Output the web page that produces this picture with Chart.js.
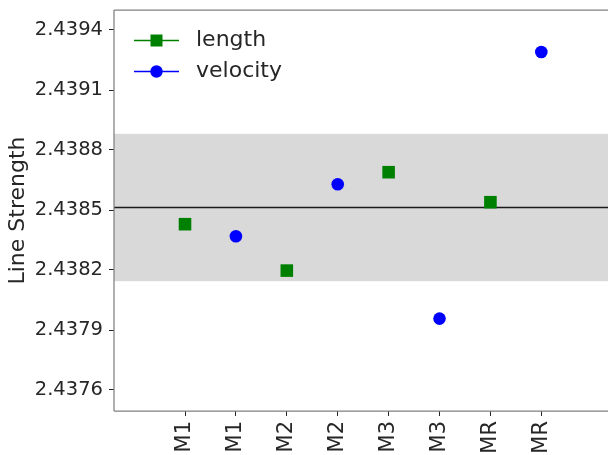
<!DOCTYPE html>
<html>
<head>
<meta charset="utf-8">
<script src="https://cdn.jsdelivr.net/npm/chart.js@4.4.1/dist/chart.umd.min.js"></script>
<style>
  html, body { margin: 0; padding: 0; background: #ffffff; }
  #wrap { position: relative; width: 608px; height: 455px; }
  canvas { display: block; }
</style>
</head>
<body>
<div id="wrap"><canvas id="chart" width="608" height="455"></canvas></div>
<script>
// Measurements per model, two methods each
const categories = ['M1', 'M2', 'M3', 'MR'];
const lengthValues = [2.438429, 2.438197, 2.438689, 2.438539];
const velocityValues = [2.438369, 2.438629, 2.437957, 2.439290];
const xTickLabels = ['M1', 'M1', 'M2', 'M2', 'M3', 'M3', 'MR', 'MR'];
const yTickValues = [2.4376, 2.4379, 2.4382, 2.4385, 2.4388, 2.4391, 2.4394];
const seriesNames = ['length', 'velocity'];

// mean and (population) standard deviation over all measurements
const allValues = lengthValues.concat(velocityValues);
const mean = allValues.reduce((a, b) => a + b, 0) / allValues.length;
const sd = Math.sqrt(allValues.reduce((a, v) => a + (v - mean) * (v - mean), 0) / allValues.length);

const FONT = 'DejaVu Sans';
const TEXT = '#262626';
const SPINE = '#808080';

// one slot per category and series: length on even slots, velocity on odd ones
const lengthPoints = lengthValues.map((v, i) => ({ x: 2 * i, y: v }));
const velocityPoints = velocityValues.map((v, i) => ({ x: 2 * i + 1, y: v }));

// no extra room for labels overhanging the ends of the axes
function noEdgePadding(scale) {
  scale.paddingTop = 0;
  scale.paddingBottom = 0;
  scale.paddingLeft = 0;
  scale.paddingRight = 0;
}

const bandPlugin = {
  id: 'band',
  beforeDatasetsDraw(chart) {
    const { ctx, chartArea } = chart;
    const y = chart.scales.y;
    const top = y.getPixelForValue(mean + sd);
    const bottom = y.getPixelForValue(mean - sd);
    const m = y.getPixelForValue(mean);
    ctx.save();
    ctx.fillStyle = '#d9d9d9';
    ctx.fillRect(chartArea.left, top, chartArea.right - chartArea.left, bottom - top);
    ctx.strokeStyle = '#1a1a1a';
    ctx.lineWidth = 1.4;
    ctx.beginPath();
    ctx.moveTo(chartArea.left, m);
    ctx.lineTo(chartArea.right, m);
    ctx.stroke();
    ctx.restore();
  }
};

const framePlugin = {
  id: 'frame',
  afterDraw(chart) {
    const { ctx, chartArea } = chart;
    ctx.save();
    ctx.strokeStyle = SPINE;
    ctx.lineWidth = 1.25;
    ctx.beginPath();
    ctx.moveTo(chartArea.left, chartArea.top);
    ctx.lineTo(chartArea.right, chartArea.top);
    ctx.moveTo(chartArea.left, chartArea.top);
    ctx.lineTo(chartArea.left, chartArea.bottom);
    ctx.moveTo(chartArea.left, chartArea.bottom);
    ctx.lineTo(chartArea.right, chartArea.bottom);
    ctx.stroke();

    // legend, upper left inside the axes
    const rows = [30.5, 61.5];
    chart.data.datasets.forEach((ds, i) => {
      const yy = chartArea.top + rows[i];
      const x0 = chartArea.left + 20;
      const x1 = chartArea.left + 65;
      const xm = (x0 + x1) / 2;
      ctx.strokeStyle = ds.backgroundColor;
      ctx.lineWidth = 1.3;
      ctx.beginPath();
      ctx.moveTo(x0, yy);
      ctx.lineTo(x1, yy);
      ctx.stroke();
      ctx.fillStyle = ds.backgroundColor;
      if (ds.pointStyle === 'rect') {
        ctx.fillRect(xm - 6, yy - 6, 12, 12);
      } else {
        ctx.beginPath();
        ctx.arc(xm, yy, 6.2, 0, Math.PI * 2);
        ctx.fill();
      }
      ctx.fillStyle = TEXT;
      ctx.font = '22px "' + FONT + '"';
      ctx.textBaseline = 'middle';
      ctx.textAlign = 'left';
      ctx.fillText(ds.label, chartArea.left + 82, yy);
    });
    ctx.restore();
  }
};

new Chart(document.getElementById('chart'), {
  type: 'scatter',
  data: {
    datasets: [
      {
        label: seriesNames[0],
        data: lengthPoints,
        pointStyle: 'rect',
        pointRadius: 8.9,
        backgroundColor: '#008000',
        borderColor: '#008000',
        borderWidth: 0,
        showLine: false
      },
      {
        label: seriesNames[1],
        data: velocityPoints,
        pointStyle: 'circle',
        pointRadius: 6.3,
        backgroundColor: '#0000ff',
        borderColor: '#0000ff',
        borderWidth: 0,
        showLine: false
      }
    ]
  },
  options: {
    responsive: false,
    animation: false,
    events: [],
    devicePixelRatio: 1,
    layout: { autoPadding: false, padding: { top: 10, right: 0, bottom: 0, left: 0 } },
    plugins: {
      legend: { display: false },
      tooltip: { enabled: false }
    },
    scales: {
      x: {
        type: 'linear',
        min: -1.395,
        max: 8.31,
        afterBuildTicks(scale) {
          scale.ticks = xTickLabels.map((_, i) => ({ value: i }));
        },
        afterFit(scale) { scale.height = 44; noEdgePadding(scale); },
        ticks: {
          callback: (v) => xTickLabels[v],
          minRotation: 90,
          maxRotation: 90,
          autoSkip: false,
          padding: 5,
          color: TEXT,
          font: { family: FONT, size: 21 }
        },
        grid: { drawOnChartArea: false, drawTicks: true, tickLength: 5, tickColor: TEXT, tickWidth: 1 },
        border: { display: false }
      },
      y: {
        type: 'linear',
        min: 2.437495,
        max: 2.4395,
        afterBuildTicks(scale) {
          scale.ticks = yTickValues.map(v => ({ value: v }));
        },
        afterFit(scale) { scale.width = 114; noEdgePadding(scale); },
        ticks: {
          callback: (v) => v.toFixed(4),
          padding: 6,
          color: TEXT,
          font: { family: FONT, size: 19.5 }
        },
        grid: { drawOnChartArea: false, drawTicks: true, tickLength: 5, tickColor: TEXT, tickWidth: 1 },
        border: { display: false },
        title: {
          display: true,
          text: 'Line Strength',
          color: TEXT,
          font: { family: FONT, size: 22 },
          padding: { top: 5, bottom: 0 }
        }
      }
    }
  },
  plugins: [bandPlugin, framePlugin]
});
</script>
</body>
</html>
